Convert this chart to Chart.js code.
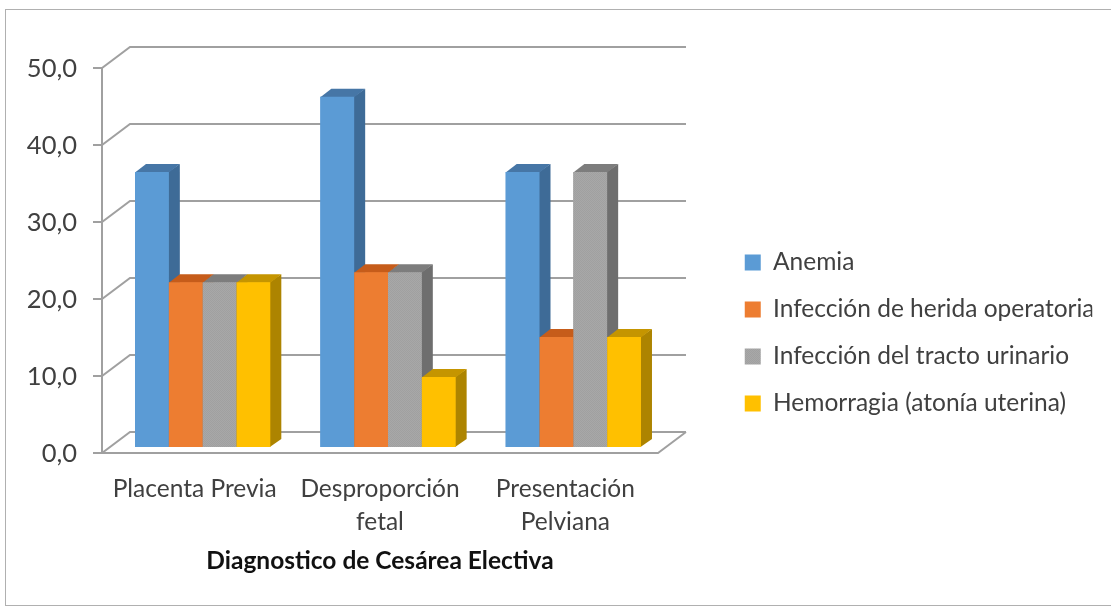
<!DOCTYPE html>
<html>
<head>
<meta charset="utf-8">
<script src="https://cdn.jsdelivr.net/npm/chart.js@4.4.1/dist/chart.umd.min.js"></script>
<style>
  html, body { margin: 0; padding: 0; background: #fff; overflow: hidden; }
  canvas { display: block; }
</style>
</head>
<body>
<canvas id="grafico" width="1111" height="607"></canvas>
<script>
// Datos del grafico (porcentajes por diagnostico)
var categorias = [['Placenta Previa'], ['Desproporción', 'fetal'], ['Presentación', 'Pelviana']];
var series = ['Anemia', 'Infección de herida operatoria', 'Infección del tracto urinario', 'Hemorragia (atonía uterina)'];
var anemia = [35.7, 45.5, 35.7];
var infeccionHerida = [21.4, 22.7, 14.3];
var infeccionUrinaria = [21.4, 22.7, 35.7];
var hemorragia = [21.4, 9.1, 14.3];
var ticksY = [0, 10, 20, 30, 40, 50];
var tituloX = 'Diagnostico de Cesárea Electiva';

// Geometria del efecto 3D
var PROF = {x: 28, y: -21};        // fondo del piso / pared
var DESPL = {x: 8, y: -6};         // cara frontal de las barras
var PROF_BARRA = {x: 11, y: -8};   // grosor de cada barra

var FUENTE = 'Lato';
var TEXTO = '#404040';

// tamaño de letra para que el texto mida lo mismo que en el original
function ajustarFuente(texto, peso, ancho) {
    var c = document.createElement('canvas').getContext('2d');
    c.font = peso + ' 100px ' + FUENTE;
    return Math.round(200 * ancho / c.measureText(texto).width) / 2;
}

function patronGris() {
    var c = document.createElement('canvas');
    c.width = 2; c.height = 2;
    var g = c.getContext('2d');
    g.fillStyle = '#a8a8a8'; g.fillRect(0, 0, 2, 2);
    g.fillStyle = '#a0a0a0'; g.fillRect(0, 0, 1, 1); g.fillRect(1, 1, 1, 1);
    return g.createPattern(c, 'repeat');
}

var fTicks = ajustarFuente('50,0', 'normal', 50);
var fCat = ajustarFuente('Placenta Previa', 'normal', 163);
var fLeyenda = ajustarFuente(series[2], 'normal', 299);
var fTitulo = ajustarFuente(tituloX, 'bold', 345);

var caras = [
    {frente: '#5b9bd5', lado: '#3e6b97', tapa: '#4676a6'},
    {frente: '#ed7d31', lado: '#b35d22', tapa: '#c65c1a'},
    {frente: patronGris(), lado: '#6e6e6e', tapa: '#7d7d7d'},
    {frente: '#ffc000', lado: '#ad8400', tapa: '#c59500'}
];

// layout
var padLeyenda = 47 - fLeyenda;
var anchoLeyenda = 370;
var anchoEspaciador = 52 + fLeyenda / 2;
var padDerecho = 1111 - 658 - anchoLeyenda - anchoEspaciador;

var marco3d = {
    id: 'marco3d',
    beforeDraw: function(chart) {
        var ctx = chart.ctx;
        ctx.save();
        ctx.fillStyle = '#fff';
        ctx.fillRect(0, 0, chart.width, chart.height);
        ctx.strokeStyle = '#b0b0b0';
        ctx.lineWidth = 1;
        ctx.strokeRect(5.5, 9.5, chart.width, 596);
        ctx.restore();
    },
    beforeDatasetsDraw: function(chart) {
        var ctx = chart.ctx, y = chart.scales.y, area = chart.chartArea;
        ctx.save();
        ctx.strokeStyle = '#a0a0a0';
        ctx.lineWidth = 2;
        ctx.beginPath();
        ticksY.forEach(function(v) {
            var py = Math.round(y.getPixelForValue(v));
            ctx.moveTo(area.left - 9, py);
            ctx.lineTo(area.left, py);
            ctx.lineTo(area.left + PROF.x, py + PROF.y);
            ctx.lineTo(area.right + PROF.x, py + PROF.y);
        });
        ctx.moveTo(area.left, Math.round(y.getPixelForValue(ticksY[ticksY.length - 1])));
        ctx.lineTo(area.left, Math.round(area.bottom));
        ctx.lineTo(area.right, Math.round(area.bottom));
        ctx.lineTo(area.right + PROF.x, Math.round(area.bottom) + PROF.y);
        ctx.stroke();
        ctx.restore();
        // las barras se dibujan un poco hacia el fondo
        ctx.save();
        ctx.translate(DESPL.x, DESPL.y);
    },
    afterDatasetsDraw: function(chart) {
        var ctx = chart.ctx;
        var dx = PROF_BARRA.x, dy = PROF_BARRA.y;
        // de izquierda a derecha: lado, tapa y frente de cada barra
        chart.data.datasets.forEach(function(ds, i) {
            chart.getDatasetMeta(i).data.forEach(function(bar) {
                var izq = bar.x - bar.width / 2, der = bar.x + bar.width / 2;
                var arriba = bar.y, abajo = bar.base;
                ctx.fillStyle = caras[i].lado;
                ctx.beginPath();
                ctx.moveTo(der - 0.5, arriba);
                ctx.lineTo(der + dx, arriba + dy);
                ctx.lineTo(der + dx, abajo + dy);
                ctx.lineTo(der - 0.5, abajo);
                ctx.closePath();
                ctx.fill();
                ctx.fillStyle = caras[i].tapa;
                ctx.beginPath();
                ctx.moveTo(izq, arriba + 0.5);
                ctx.lineTo(izq + dx, arriba + dy);
                ctx.lineTo(der + dx, arriba + dy);
                ctx.lineTo(der, arriba + 0.5);
                ctx.closePath();
                ctx.fill();
                bar.draw(ctx);
            });
        });
        ctx.restore();
    }
};

var valores = [anemia, infeccionHerida, infeccionUrinaria, hemorragia];

new Chart(document.getElementById('grafico'), {
    type: 'bar',
    data: {
        labels: categorias,
        datasets: series.map(function(nombre, i) {
            return {label: nombre, data: valores[i], backgroundColor: caras[i].frente};
        })
    },
    options: {
        responsive: false,
        animation: false,
        devicePixelRatio: 1,
        layout: {padding: {left: 0, top: 68, right: padDerecho, bottom: 9}},
        datasets: {
            bar: {categoryPercentage: 0.73, barPercentage: 1, borderWidth: 0, clip: false}
        },
        plugins: {
            legend: {
                position: 'right',
                maxWidth: anchoLeyenda,
                labels: {
                    boxWidth: 16,
                    boxHeight: 16,
                    padding: padLeyenda,
                    color: TEXTO,
                    font: {family: FUENTE, size: fLeyenda}
                }
            },
            tooltip: {enabled: false}
        },
        scales: {
            x: {
                grid: {display: false, drawTicks: false},
                border: {display: false},
                ticks: {
                    color: TEXTO,
                    padding: 19.5,
                    maxRotation: 0,
                    autoSkip: false,
                    font: {family: FUENTE, size: fCat, lineHeight: '33px'}
                },
                title: {
                    display: true,
                    text: tituloX,
                    color: '#111',
                    font: {family: FUENTE, size: fTitulo, weight: 'bold'},
                    padding: {top: 0, bottom: 37 - 0.6 * fTitulo}
                },
                afterFit: function(s) { s.height = 145; }
            },
            y: {
                min: ticksY[0],
                max: ticksY[ticksY.length - 1],
                grid: {display: false, drawTicks: false},
                border: {display: false},
                ticks: {
                    stepSize: ticksY[1] - ticksY[0],
                    padding: 25,
                    labelOffset: 1,
                    color: TEXTO,
                    font: {family: FUENTE, size: fTicks},
                    callback: function(v) { return v.toFixed(1).replace('.', ','); }
                },
                afterFit: function(s) { s.width = 102; }
            },
            // espacio vacio entre el grafico y la leyenda
            y2: {
                position: 'right',
                display: true,
                grid: {display: false, drawTicks: false},
                border: {display: false},
                ticks: {display: false},
                afterFit: function(s) { s.width = anchoEspaciador; }
            }
        }
    },
    plugins: [marco3d]
});
</script>
</body>
</html>
